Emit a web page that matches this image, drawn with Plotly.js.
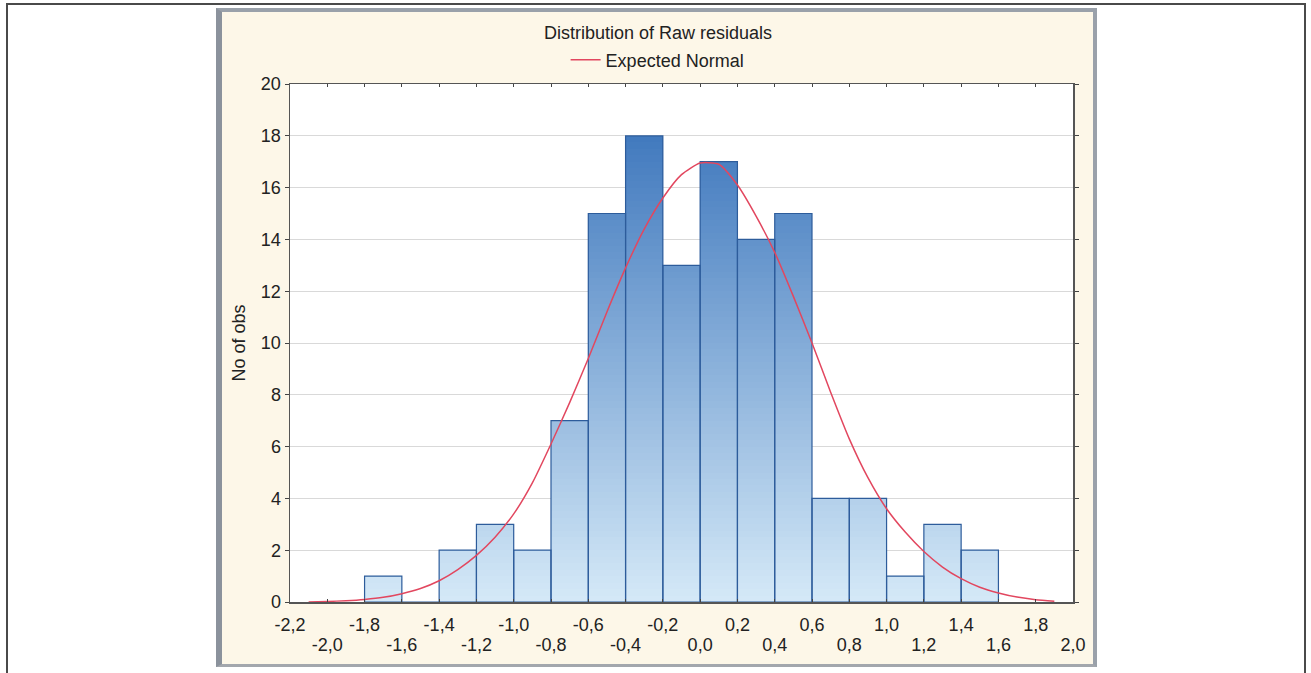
<!DOCTYPE html>
<html>
<head>
<meta charset="utf-8">
<script src="https://cdn.plot.ly/plotly-3.0.1.min.js"></script>
<style>
  html, body { margin: 0; padding: 0; background: #ffffff; width: 1311px; height: 673px; overflow: hidden; }
  #frame { position: absolute; left: 6px; top: 3px; width: 1296px; height: 720px; border: 2px solid #4a4a4a; box-sizing: content-box; }
  #panel { position: absolute; left: 216px; top: 8px; width: 871px; height: 652px;
           background: #fdf7e8; border-left: 6px solid #8b929c; border-top: 4px solid #9aa1aa;
           border-right: 4px solid #9aa1aa; border-bottom: 3px solid #a3a7ad; }
  #chart { position: absolute; left: 0; top: 0; width: 1311px; height: 673px; }
</style>
</head>
<body>
<div id="frame"></div>
<div id="panel"></div>
<div id="chart"></div>
<script>
// Histogram of raw residuals (bin width 0.2)
const binCenters = [-1.7, -1.5, -1.3, -1.1, -0.9, -0.7, -0.5, -0.3, -0.1, 0.1, 0.3, 0.5, 0.7, 0.9, 1.1, 1.3, 1.5];
const counts     = [ 1,    0,    2,    3,    2,    7,   15,   18,   13,   17,  14,  15,   4,   4,   1,   3,   2];

// Expected normal curve, sampled every 0.1
const curveX = [-2.1, -2.0, -1.9, -1.8, -1.7, -1.6, -1.5, -1.4, -1.3, -1.2, -1.1, -1.0, -0.9, -0.8, -0.7, -0.6,
                -0.5, -0.4, -0.3, -0.2, -0.1, 0.0, 0.1, 0.2, 0.3, 0.4, 0.5, 0.6, 0.7, 0.8, 0.9, 1.0,
                1.1, 1.2, 1.3, 1.4, 1.5, 1.6, 1.7, 1.8, 1.9];
const curveY = [0.0, 0.02, 0.05, 0.1, 0.18, 0.32, 0.52, 0.82, 1.25, 1.8, 2.5, 3.4, 4.6, 6.1, 7.7, 9.4,
                11.2, 12.9, 14.4, 15.6, 16.5, 16.95, 16.9, 16.1, 14.9, 13.5, 11.8, 10.0, 8.1, 6.3, 4.8, 3.6,
                2.7, 1.95, 1.35, 0.9, 0.57, 0.35, 0.19, 0.09, 0.03];

// Tick labels: alternating rows beneath the x axis
const tickRowTop    = [-2.2, -1.8, -1.4, -1.0, -0.6, -0.2, 0.2, 0.6, 1.0, 1.4, 1.8];
const tickRowBottom = [-2.0, -1.6, -1.2, -0.8, -0.4, 0.0, 0.4, 0.8, 1.2, 1.6, 2.0];
const yTicks = [0, 2, 4, 6, 8, 10, 12, 14, 16, 18, 20];

const fmt = v => v.toFixed(1).replace('.', ',');

// Vertical colour ramp for the bars: light at the base, deep blue at the top
const lowColor = [214, 234, 248];
const highColor = [50, 110, 184];
function rampColor(level) {
  const t = Math.min(1, Math.max(0, level / 20));
  const c = lowColor.map((lc, i) => Math.round(lc + (highColor[i] - lc) * t));
  return 'rgb(' + c.join(',') + ')';
}

const traces = [];
const step = 0.25;
// Layers drawn from the tallest down, each covering the lower part of the previous
for (let level = 20; level > 0; level -= step) {
  const ys = counts.map(v => Math.min(v, level));
  if (!ys.some(v => v > 0)) continue;
  traces.push({
    type: 'bar', x: binCenters, y: ys, width: 0.2,
    marker: { color: rampColor(level), line: { width: 0 } },
    showlegend: false, hoverinfo: 'skip'
  });
}
// Bar outlines
traces.push({
  type: 'bar', x: binCenters, y: counts, width: 0.2,
  marker: { color: 'rgba(0,0,0,0)', line: { color: '#2d5c9b', width: 1.2 } },
  showlegend: false, hoverinfo: 'skip'
});
// Expected normal
traces.push({
  type: 'scatter', mode: 'lines', x: curveX, y: curveY,
  name: 'Expected Normal',
  line: { color: '#e2475f', width: 1.5, shape: 'spline', smoothing: 0.6 }
});
// Invisible anchor so the second row of x labels is drawn
traces.push({
  type: 'scatter', mode: 'markers', x: [tickRowBottom[0]], y: [0], xaxis: 'x2', yaxis: 'y',
  marker: { opacity: 0 }, showlegend: false, hoverinfo: 'skip'
});

const font = { family: 'Arial, "Liberation Sans", sans-serif', size: 18, color: '#222222' };

const layout = {
  width: 1311, height: 673,
  margin: { l: 290, r: 238, t: 84, b: 71 },
  paper_bgcolor: 'rgba(0,0,0,0)',
  plot_bgcolor: '#ffffff',
  font: font,
  barmode: 'overlay',
  bargap: 0,
  title: {
    text: 'Distribution of Raw residuals',
    font: font,
    xref: 'paper', x: 0.47, xanchor: 'center',
    yref: 'container', y: 0.951, yanchor: 'middle'
  },
  showlegend: true,
  legend: {
    orientation: 'h', x: 0.352, xanchor: 'left', y: 1.046, yanchor: 'middle',
    bgcolor: 'rgba(0,0,0,0)', borderwidth: 0, font: font
  },
  xaxis: {
    range: [-2.2, 2.0],
    tickmode: 'array', tickvals: tickRowTop, ticktext: tickRowTop.map(fmt),
    ticks: 'inside', ticklen: 3, tickcolor: '#444', tickwidth: 1,
    ticklabelstandoff: 6,
    showline: true, linecolor: '#555555', linewidth: 1.5, mirror: 'ticks',
    showgrid: false, zeroline: false, tickfont: font, fixedrange: true
  },
  xaxis2: {
    overlaying: 'x', anchor: 'y', side: 'bottom',
    range: [-2.2, 2.0],
    tickmode: 'array', tickvals: tickRowBottom, ticktext: tickRowBottom.map(fmt),
    ticks: 'inside', ticklen: 3, tickcolor: '#444', tickwidth: 1,
    ticklabelstandoff: 30,
    showline: false, mirror: 'ticks', showgrid: false, zeroline: false, tickfont: font, fixedrange: true
  },
  yaxis: {
    range: [0, 20],
    tickmode: 'array', tickvals: yTicks, ticktext: yTicks.map(String),
    ticks: 'outside', ticklen: 4, tickcolor: '#444', tickwidth: 1,
    showline: true, linecolor: '#555555', linewidth: 1.5, mirror: 'ticks',
    showgrid: true, gridcolor: '#d9d9d9', gridwidth: 1, zeroline: false,
    tickfont: font, fixedrange: true,
    title: { text: 'No of obs', font: font, standoff: 10 }
  }
};

Plotly.newPlot('chart', traces, layout, { displayModeBar: false, staticPlot: true });
</script>
</body>
</html>
